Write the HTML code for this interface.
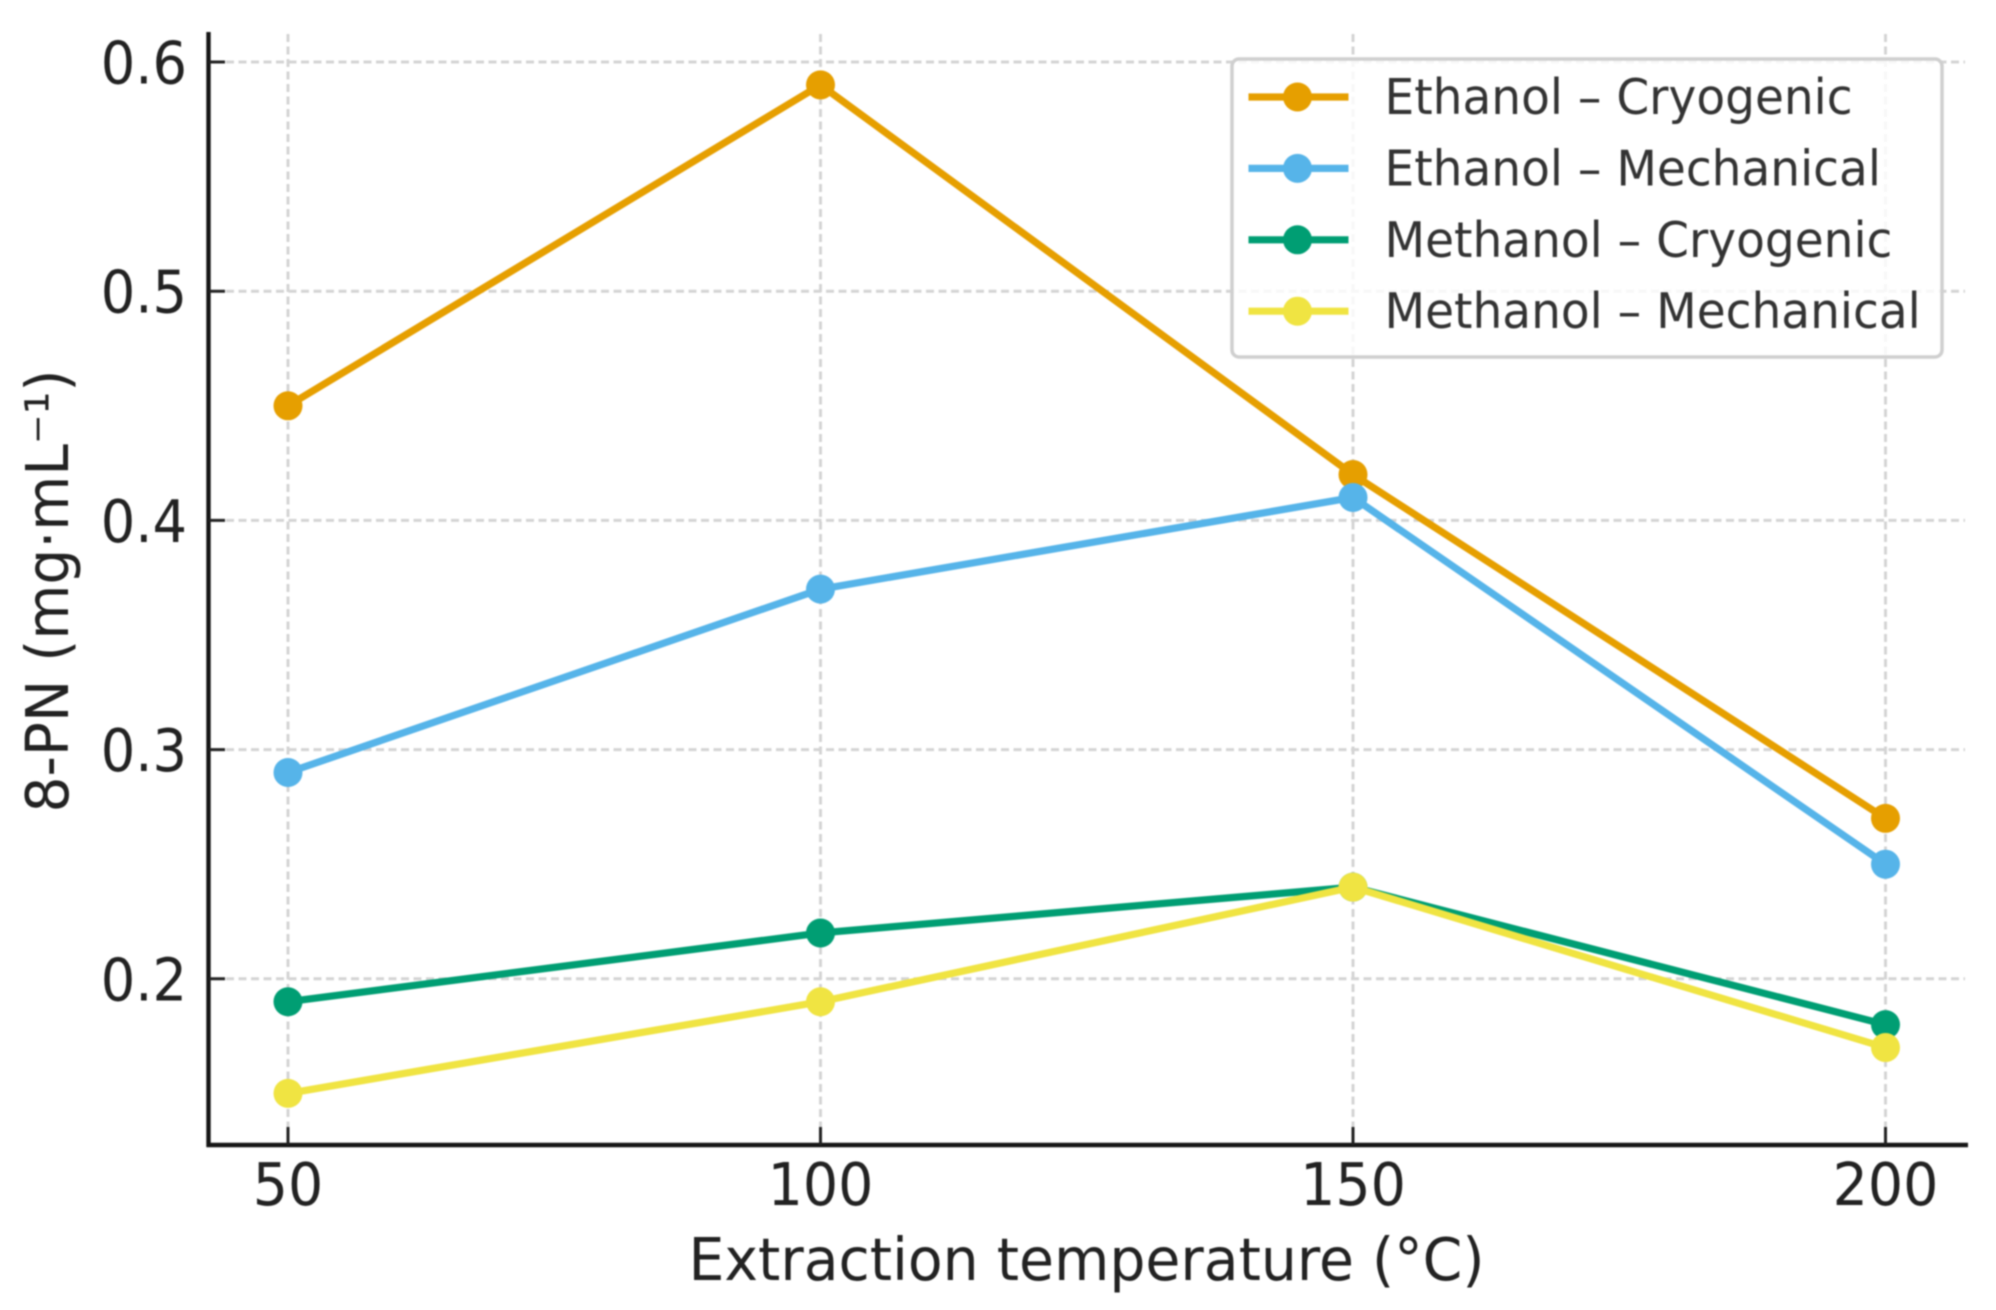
<!DOCTYPE html>
<html lang="en">
<head>
<meta charset="utf-8">
<title>8-PN versus extraction temperature</title>
<style>
html,body{margin:0;padding:0;background:#fff;width:1996px;height:1310px;overflow:hidden}
svg{display:block;filter:blur(.7px)}
text{font-family:"DejaVu Sans","Liberation Sans",sans-serif;fill:#222}
</style>
</head>
<body>
<svg id="chart" xmlns="http://www.w3.org/2000/svg" width="1996" height="1310" viewBox="0 0 1996 1310">
  <g id="grid"></g>
  <g id="series"></g>
  <g id="legend"></g>
  <g id="axes"></g>
  <text x="1086.5" y="1280" font-size="59" text-anchor="middle" textLength="796" lengthAdjust="spacingAndGlyphs">Extraction temperature (°C)</text>
  <text transform="translate(68,591) rotate(-90)" font-size="59" text-anchor="middle" textLength="443" lengthAdjust="spacingAndGlyphs">8-PN (mg·mL⁻¹)</text>
</svg>
<script>
const categories = [50, 100, 150, 200];
const xTickLabels = ["50", "100", "150", "200"];
const yTicks = [0.2, 0.3, 0.4, 0.5, 0.6];
const yTickLabels = ["0.2", "0.3", "0.4", "0.5", "0.6"];
const ethanolCryogenic = [0.45, 0.59, 0.42, 0.27];
const ethanolMechanical = [0.29, 0.37, 0.41, 0.25];
const methanolCryogenic = [0.19, 0.22, 0.24, 0.18];
const methanolMechanical = [0.15, 0.19, 0.24, 0.17];
const seriesNames = ["Ethanol – Cryogenic", "Ethanol – Mechanical", "Methanol – Cryogenic", "Methanol – Mechanical"];
const seriesValues = [ethanolCryogenic, ethanolMechanical, methanolCryogenic, methanolMechanical];
const seriesColors = ["#E69F00", "#56B4E9", "#009E73", "#F0E442"];

const NS = "http://www.w3.org/2000/svg";
const plot = {left: 208.5, right: 1968, top: 32, bottom: 1145};
function xScale(v) { return 288 + (v - 50) * (1885.5 - 288) / 150; }
function yScale(v) { return 62 + (0.6 - v) * 2292; }
function make(tag, parent, attrs) {
  const el = document.createElementNS(NS, tag);
  for (const k in attrs) el.setAttribute(k, attrs[k]);
  parent.appendChild(el);
  return el;
}
const gridG = document.getElementById("grid");
const seriesG = document.getElementById("series");
const legendG = document.getElementById("legend");
const axesG = document.getElementById("axes");

categories.forEach(function (c) {
  const g = make("line", gridG, {x1: xScale(c), x2: xScale(c), y1: plot.top + 2, y2: plot.bottom - 18, stroke: "#d4d4d4", "stroke-width": 3, "stroke-dasharray": "8 4.5"});
  
  
});
yTicks.forEach(function (t) {
  const g = make("line", gridG, {x1: 226, x2: 1965, y1: yScale(t), y2: yScale(t), stroke: "#d4d4d4", "stroke-width": 3, "stroke-dasharray": "8 4.5"});
  
  
});

seriesValues.forEach(function (vals, i) {
  const pts = vals.map(function (v, j) { return xScale(categories[j]) + "," + yScale(v); }).join(" ");
  const line = make("polyline", seriesG, {points: pts, fill: "none", stroke: seriesColors[i], "stroke-width": 7.2, "stroke-linejoin": "round"});
  
  
  vals.forEach(function (v, j) {
    const p = make("circle", seriesG, {cx: xScale(categories[j]), cy: yScale(v), r: 14.5, fill: seriesColors[i]});
    
    
  });
});

const frame = make("rect", legendG, {x: 1240, y: 59, width: 710, height: 298, rx: 7, ry: 7, fill: "#fff", "fill-opacity": 0.82, stroke: "#cfcfcf", "stroke-width": 3.5});
frame.setAttribute('x', 1232);


seriesNames.forEach(function (name, i) {
  const rowY = 97 + i * 71.4;
  const key = make("line", legendG, {x1: 1248.5, x2: 1348.5, y1: rowY, y2: rowY, stroke: seriesColors[i], "stroke-width": 7.2});
  
  
  const dot = make("circle", legendG, {cx: 1297.5, cy: rowY, r: 14.5, fill: seriesColors[i]});
  
  
  const label = make("text", legendG, {transform: "translate(1384.5," + (rowY + 17) + ") scale(0.96,1)", "font-size": 49});
  label.style.fill = "#333";
  label.textContent = name;
  
  
});

const ySpine = make("line", axesG, {x1: plot.left, x2: plot.left, y1: plot.top, y2: plot.bottom + 2, stroke: "#151515", "stroke-width": 4.4});


const xSpine = make("line", axesG, {x1: plot.left - 2, x2: plot.right, y1: plot.bottom, y2: plot.bottom, stroke: "#151515", "stroke-width": 4.4});



yTicks.forEach(function (t, i) {
  const tick = make("line", axesG, {x1: plot.left, x2: 225, y1: yScale(t), y2: yScale(t), stroke: "#222", "stroke-width": 3});
  
  
  const lab = make("text", axesG, {transform: "translate(187," + (yScale(t) + 21.5) + ") scale(0.92,1)", "font-size": 59, "text-anchor": "end"});
  lab.textContent = yTickLabels[i];
  
  
});
categories.forEach(function (c, i) {
  const tick = make("line", axesG, {x1: xScale(c), x2: xScale(c), y1: 1127, y2: plot.bottom, stroke: "#222", "stroke-width": 3});
  
  
  const lab = make("text", axesG, {transform: "translate(" + xScale(c) + ",1205) scale(0.94,1)", "font-size": 59, "text-anchor": "middle"});
  lab.textContent = xTickLabels[i];
  
  
});
</script>
</body>
</html>
